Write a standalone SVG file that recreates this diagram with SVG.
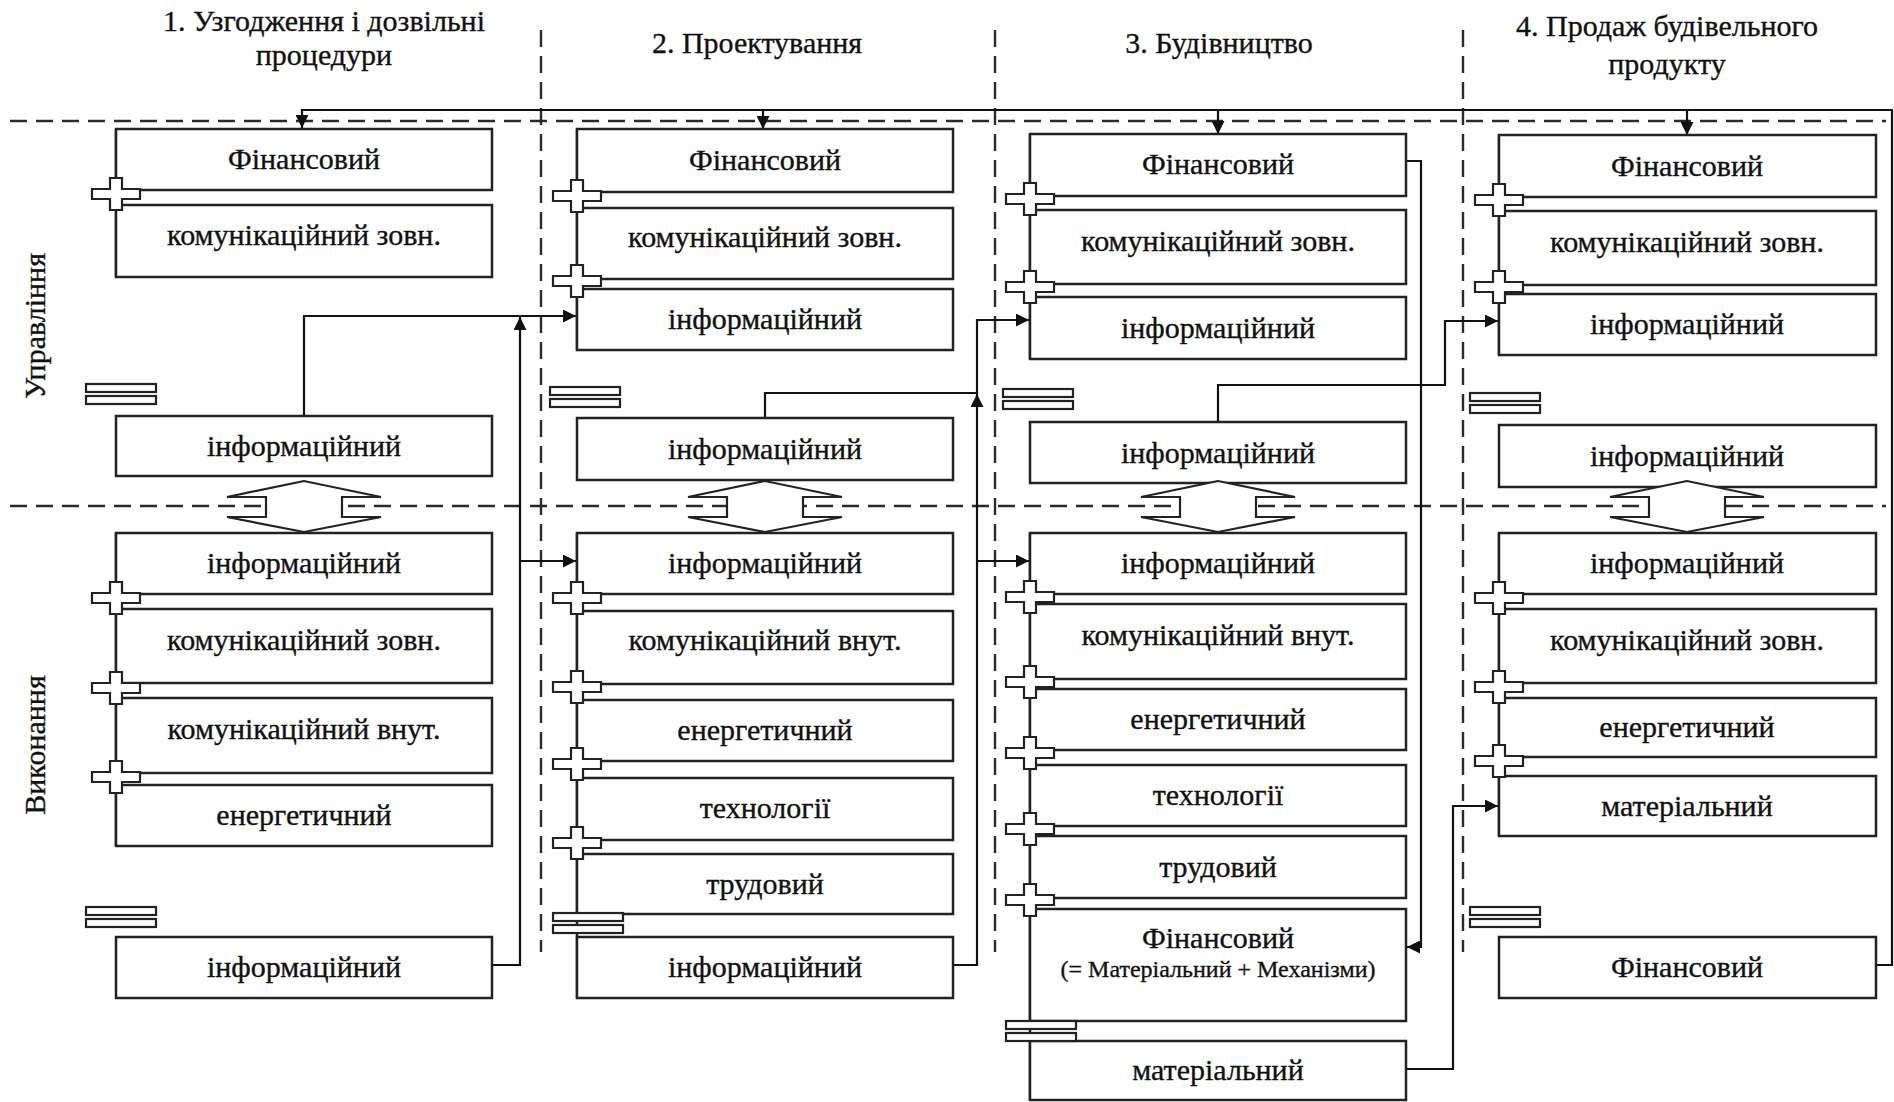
<svg xmlns="http://www.w3.org/2000/svg" xmlns:xlink="http://www.w3.org/1999/xlink" width="1894" height="1102" viewBox="0 0 1894 1102">
<style>
  text { font-family: "Liberation Serif", "Times New Roman", serif; fill: #111; stroke: #111; stroke-width: 0.35; text-anchor: middle; }
  .lbl { font-size: 30px; }
  .ttl { font-size: 30px; }
  .small { font-size: 24px; }
  .box { fill: #fff; stroke: #222; stroke-width: 2.5; }
  .conn { fill: none; stroke: #111; stroke-width: 2.2; }
  .dash { fill: none; stroke: #2a2a2a; stroke-width: 2.4; stroke-dasharray: 17 9; }
  .sym { fill: #fff; stroke: #222; stroke-width: 2.2; }
  .edge { stroke: #222; stroke-width: 2.5; }
</style>
<defs>
  <marker id="arr" viewBox="0 0 12 12" refX="12" refY="6" markerWidth="13" markerHeight="13" markerUnits="userSpaceOnUse" orient="auto">
    <path d="M0,0 L12,6 L0,12 Z" fill="#111"/>
  </marker>
  <path id="plus" class="sym" d="M-6,-16 H6 V-5 H24 V5 H6 V16 H-6 V5 H-24 V-5 H-6 Z"/>
  <g id="dbar">
    <rect class="sym" x="0" y="0" width="70" height="8"/>
    <rect class="sym" x="0" y="12" width="70" height="8"/>
  </g>
  <path id="iface" class="sym" d="M0,-25 L-77,-9 H-38 V11 H-77 L0,26 L77,11 H38 V-9 H77 Z"/>
</defs>

<!-- titles -->
<g id="titles">
  <text class="ttl" x="324" y="31">1. Узгодження і дозвільні</text>
  <text class="ttl" x="324" y="65">процедури</text>
  <text class="ttl" x="757" y="53">2. Проектування</text>
  <text class="ttl" x="1219" y="53">3. Будівництво</text>
  <text class="ttl" x="1667" y="36">4. Продаж будівельного</text>
  <text class="ttl" x="1667" y="74">продукту</text>
  <text class="ttl" transform="translate(45,326) rotate(-90)">Управління</text>
  <text class="ttl" transform="translate(45,745) rotate(-90)">Виконання</text>
</g>

<!-- swimlane dashed lines -->
<g id="lanes">
  <line class="dash" x1="10" y1="121" x2="1886" y2="121"/>
  <line class="dash" x1="10" y1="506" x2="1886" y2="506"/>
  <line class="dash" x1="541" y1="30" x2="541" y2="952"/>
  <line class="dash" x1="995" y1="30" x2="995" y2="952"/>
  <line class="dash" x1="1463" y1="30" x2="1463" y2="952"/>
</g>

<!-- connectors -->
<g id="connectors">
  <path class="conn" d="M1876,965 H1892 V110 H302 V128" marker-end="url(#arr)"/>
  <path class="conn" d="M763,110 V129" marker-end="url(#arr)"/>
  <path class="conn" d="M1218,110 V134" marker-end="url(#arr)"/>
  <path class="conn" d="M1687,110 V135" marker-end="url(#arr)"/>

  <path class="conn" d="M304,416 V316 H576" marker-end="url(#arr)"/>
  <path class="conn" d="M492,965 H520 V317" marker-end="url(#arr)"/>
  <path class="conn" d="M520,561 H576" marker-end="url(#arr)"/>

  <path class="conn" d="M765,418 V393 H977"/>
  <path class="conn" d="M953,965 H977 V394" marker-end="url(#arr)"/>
  <path class="conn" d="M977,394 V320 H1029" marker-end="url(#arr)"/>
  <path class="conn" d="M977,561 H1029" marker-end="url(#arr)"/>

  <path class="conn" d="M1218,422 V385 H1445 V321 H1498" marker-end="url(#arr)"/>
  <path class="conn" d="M1406,161 H1421 V947 H1407" marker-end="url(#arr)"/>
  <path class="conn" d="M1406,1069 H1453 V806 H1498" marker-end="url(#arr)"/>
</g>

<!-- stack left edges -->
<g id="stack-edges">
  <line class="edge" x1="116" y1="129" x2="116" y2="277"/>
  <line class="edge" x1="116" y1="533" x2="116" y2="846"/>
  <line class="edge" x1="577" y1="129" x2="577" y2="350"/>
  <line class="edge" x1="577" y1="533" x2="577" y2="998"/>
  <line class="edge" x1="1030" y1="134" x2="1030" y2="359"/>
  <line class="edge" x1="1030" y1="533" x2="1030" y2="1100"/>
  <line class="edge" x1="1499" y1="135" x2="1499" y2="355"/>
  <line class="edge" x1="1499" y1="533" x2="1499" y2="836"/>
</g>

<!-- column 1 -->
<g id="c1m1"><rect class="box" x="116" y="129" width="376" height="61"/><text class="lbl" x="304" y="169">Фінансовий</text></g>
<g id="c1m2"><rect class="box" x="116" y="205" width="376" height="72"/><text class="lbl" x="304" y="245">комунікаційний зовн.</text></g>
<g id="c1m3"><rect class="box" x="116" y="416" width="376" height="60"/><text class="lbl" x="304" y="456">інформаційний</text></g>
<g id="c1e1"><rect class="box" x="116" y="533" width="376" height="61"/><text class="lbl" x="304" y="573">інформаційний</text></g>
<g id="c1e2"><rect class="box" x="116" y="609" width="376" height="74"/><text class="lbl" x="304" y="650">комунікаційний зовн.</text></g>
<g id="c1e3"><rect class="box" x="116" y="698" width="376" height="75"/><text class="lbl" x="304" y="739">комунікаційний внут.</text></g>
<g id="c1e4"><rect class="box" x="116" y="785" width="376" height="61"/><text class="lbl" x="304" y="825">енергетичний</text></g>
<g id="c1e5"><rect class="box" x="116" y="937" width="376" height="61"/><text class="lbl" x="304" y="977">інформаційний</text></g>

<!-- column 2 -->
<g id="c2m1"><rect class="box" x="577" y="129" width="376" height="63"/><text class="lbl" x="765" y="170">Фінансовий</text></g>
<g id="c2m2"><rect class="box" x="577" y="208" width="376" height="71"/><text class="lbl" x="765" y="247">комунікаційний зовн.</text></g>
<g id="c2m3"><rect class="box" x="577" y="289" width="376" height="61"/><text class="lbl" x="765" y="329">інформаційний</text></g>
<g id="c2m4"><rect class="box" x="577" y="418" width="376" height="62"/><text class="lbl" x="765" y="459">інформаційний</text></g>
<g id="c2e1"><rect class="box" x="577" y="533" width="376" height="61"/><text class="lbl" x="765" y="573">інформаційний</text></g>
<g id="c2e2"><rect class="box" x="577" y="611" width="376" height="73"/><text class="lbl" x="765" y="650">комунікаційний внут.</text></g>
<g id="c2e3"><rect class="box" x="577" y="700" width="376" height="61"/><text class="lbl" x="765" y="740">енергетичний</text></g>
<g id="c2e4"><rect class="box" x="577" y="778" width="376" height="62"/><text class="lbl" x="765" y="818">технології</text></g>
<g id="c2e5"><rect class="box" x="577" y="854" width="376" height="60"/><text class="lbl" x="765" y="894">трудовий</text></g>
<g id="c2e6"><rect class="box" x="577" y="937" width="376" height="61"/><text class="lbl" x="765" y="977">інформаційний</text></g>

<!-- column 3 -->
<g id="c3m1"><rect class="box" x="1030" y="134" width="376" height="62"/><text class="lbl" x="1218" y="174">Фінансовий</text></g>
<g id="c3m2"><rect class="box" x="1030" y="210" width="376" height="74"/><text class="lbl" x="1218" y="251">комунікаційний зовн.</text></g>
<g id="c3m3"><rect class="box" x="1030" y="297" width="376" height="62"/><text class="lbl" x="1218" y="338">інформаційний</text></g>
<g id="c3m4"><rect class="box" x="1030" y="422" width="376" height="61"/><text class="lbl" x="1218" y="463">інформаційний</text></g>
<g id="c3e1"><rect class="box" x="1030" y="533" width="376" height="61"/><text class="lbl" x="1218" y="573">інформаційний</text></g>
<g id="c3e2"><rect class="box" x="1030" y="604" width="376" height="75"/><text class="lbl" x="1218" y="645">комунікаційний внут.</text></g>
<g id="c3e3"><rect class="box" x="1030" y="689" width="376" height="61"/><text class="lbl" x="1218" y="729">енергетичний</text></g>
<g id="c3e4"><rect class="box" x="1030" y="765" width="376" height="61"/><text class="lbl" x="1218" y="805">технології</text></g>
<g id="c3e5"><rect class="box" x="1030" y="836" width="376" height="62"/><text class="lbl" x="1218" y="877">трудовий</text></g>
<g id="c3e6"><rect class="box" x="1030" y="909" width="376" height="112"/><text class="lbl" x="1218" y="948">Фінансовий</text><text class="small" x="1218" y="977">(= Матеріальний + Механізми)</text></g>
<g id="c3e7"><rect class="box" x="1030" y="1041" width="376" height="59"/><text class="lbl" x="1218" y="1080">матеріальний</text></g>

<!-- column 4 -->
<g id="c4m1"><rect class="box" x="1499" y="135" width="377" height="62"/><text class="lbl" x="1687" y="176">Фінансовий</text></g>
<g id="c4m2"><rect class="box" x="1499" y="211" width="377" height="74"/><text class="lbl" x="1687" y="252">комунікаційний зовн.</text></g>
<g id="c4m3"><rect class="box" x="1499" y="294" width="377" height="61"/><text class="lbl" x="1687" y="334">інформаційний</text></g>
<g id="c4m4"><rect class="box" x="1499" y="425" width="377" height="62"/><text class="lbl" x="1687" y="466">інформаційний</text></g>
<g id="c4e1"><rect class="box" x="1499" y="533" width="377" height="61"/><text class="lbl" x="1687" y="573">інформаційний</text></g>
<g id="c4e2"><rect class="box" x="1499" y="609" width="377" height="74"/><text class="lbl" x="1687" y="650">комунікаційний зовн.</text></g>
<g id="c4e3"><rect class="box" x="1499" y="698" width="377" height="59"/><text class="lbl" x="1687" y="737">енергетичний</text></g>
<g id="c4e4"><rect class="box" x="1499" y="776" width="377" height="60"/><text class="lbl" x="1687" y="816">матеріальний</text></g>
<g id="c4e5"><rect class="box" x="1499" y="937" width="377" height="61"/><text class="lbl" x="1687" y="977">Фінансовий</text></g>

<!-- junction symbols -->
<g id="junctions">
  <use xlink:href="#plus" x="116" y="194"/>
  <use xlink:href="#plus" x="116" y="598"/>
  <use xlink:href="#plus" x="116" y="688"/>
  <use xlink:href="#plus" x="116" y="777"/>

  <use xlink:href="#plus" x="577" y="196"/>
  <use xlink:href="#plus" x="577" y="281"/>
  <use xlink:href="#plus" x="577" y="598"/>
  <use xlink:href="#plus" x="577" y="687"/>
  <use xlink:href="#plus" x="577" y="764"/>
  <use xlink:href="#plus" x="577" y="843"/>

  <use xlink:href="#plus" x="1030" y="199"/>
  <use xlink:href="#plus" x="1030" y="287"/>
  <use xlink:href="#plus" x="1030" y="597"/>
  <use xlink:href="#plus" x="1030" y="682"/>
  <use xlink:href="#plus" x="1030" y="753"/>
  <use xlink:href="#plus" x="1030" y="829"/>
  <use xlink:href="#plus" x="1030" y="900"/>

  <use xlink:href="#plus" x="1499" y="200"/>
  <use xlink:href="#plus" x="1499" y="287"/>
  <use xlink:href="#plus" x="1499" y="598"/>
  <use xlink:href="#plus" x="1499" y="687"/>
  <use xlink:href="#plus" x="1499" y="761"/>

  <use xlink:href="#dbar" x="86" y="384"/>
  <use xlink:href="#dbar" x="86" y="907"/>
  <use xlink:href="#dbar" x="550" y="387"/>
  <use xlink:href="#dbar" x="553" y="913"/>
  <use xlink:href="#dbar" x="1003" y="389"/>
  <use xlink:href="#dbar" x="1006" y="1021"/>
  <use xlink:href="#dbar" x="1470" y="393"/>
  <use xlink:href="#dbar" x="1470" y="907"/>

  <use xlink:href="#iface" x="304" y="506"/>
  <use xlink:href="#iface" x="765" y="506"/>
  <use xlink:href="#iface" x="1218" y="506"/>
  <use xlink:href="#iface" x="1687" y="506"/>
</g>
</svg>
